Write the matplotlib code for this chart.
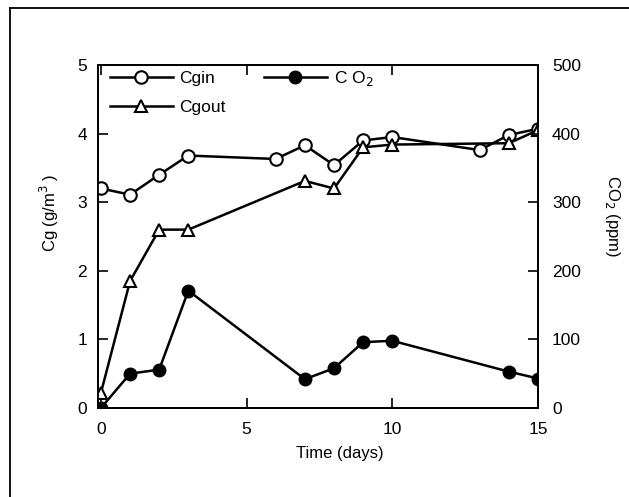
import matplotlib
matplotlib.use("Agg")
import matplotlib.pyplot as plt
from matplotlib.lines import Line2D

plt.rcParams['font.family'] = ['Liberation Sans', 'DejaVu Sans']

# Data
days_in = [0, 1, 2, 3, 6, 7, 8, 9, 10, 13, 14, 15]
cgin = [3.20, 3.11, 3.40, 3.68, 3.63, 3.83, 3.54, 3.90, 3.95, 3.76, 3.98, 4.07]

days_out = [0, 1, 2, 3, 7, 8, 9, 10, 14, 15]
cgout = [0.22, 1.85, 2.60, 2.60, 3.31, 3.20, 3.80, 3.84, 3.86, 4.05]

days_co2 = [0, 1, 2, 3, 7, 8, 9, 10, 14, 15]
co2 = [0, 50, 56, 171, 42, 58, 96, 98, 53, 43]

x_ticks = [0, 5, 10, 15]
left_ticks = [0, 1, 2, 3, 4, 5]
right_ticks = [0, 100, 200, 300, 400, 500]

fig = plt.figure(figsize=(6.29, 4.97), dpi=100)
ax = fig.add_axes([98/629, 1-408/497, 440/629, (408-65)/497])
ax2 = ax.twinx()

lw = 1.8
ms = 9
l1, = ax.plot(days_in, cgin, '-o', color='black', lw=lw, ms=ms,
              mfc='white', mec='black', mew=1.5, label='Cgin', zorder=3)
l2, = ax.plot(days_out, cgout, '-^', color='black', lw=lw, ms=ms,
              mfc='white', mec='black', mew=1.5, label='Cgout', zorder=3)
l3, = ax2.plot(days_co2, co2, '-o', color='black', lw=lw, ms=ms,
               mfc='black', mec='black', label='C O$_2$', zorder=3)

ax.set_xlim(-0.1, 15)
ax.set_ylim(0, 5)
ax2.set_ylim(0, 500)

ax.set_xticks(x_ticks)
ax.set_yticks(left_ticks)
ax2.set_yticks(right_ticks)

for a in (ax, ax2):
    for s in a.spines.values():
        s.set_linewidth(1.3)

ax.tick_params(axis='both', direction='in', length=7, width=1.2,
               labelsize=12.5, top=True, pad=10)
ax.tick_params(axis='y', pad=8)
ax2.tick_params(axis='y', direction='in', length=7, width=1.2,
                labelsize=12.5, pad=10)

ax.set_xlabel('Time (days)', fontsize=12)
ax.xaxis.set_label_coords(0.55, -0.11)
ax.set_ylabel('Cg (g/m$^3$ )', fontsize=12)
ax.yaxis.set_label_coords(-0.085, 0.57)
ax2.set_ylabel('CO$_2$ (ppm)', fontsize=12, rotation=-90)
ax2.yaxis.set_label_coords(1.19, 0.56)

leg = ax2.legend(handles=[l1, l2, l3], ncol=2, loc='upper left',
                 bbox_to_anchor=(0.0, 1.025), frameon=False, fontsize=12.5,
                 handlelength=3.6, columnspacing=2.2, handletextpad=0.4,
                 labelspacing=0.85, borderaxespad=0.3)

# outer frame lines (left and top)
fig.add_artist(Line2D([10/629, 10/629], [0, 1-8/497], color='black', lw=1.3))
fig.add_artist(Line2D([10/629, 1], [1-8/497, 1-8/497], color='black', lw=1.3))

fig.savefig('out.png', dpi=100)
